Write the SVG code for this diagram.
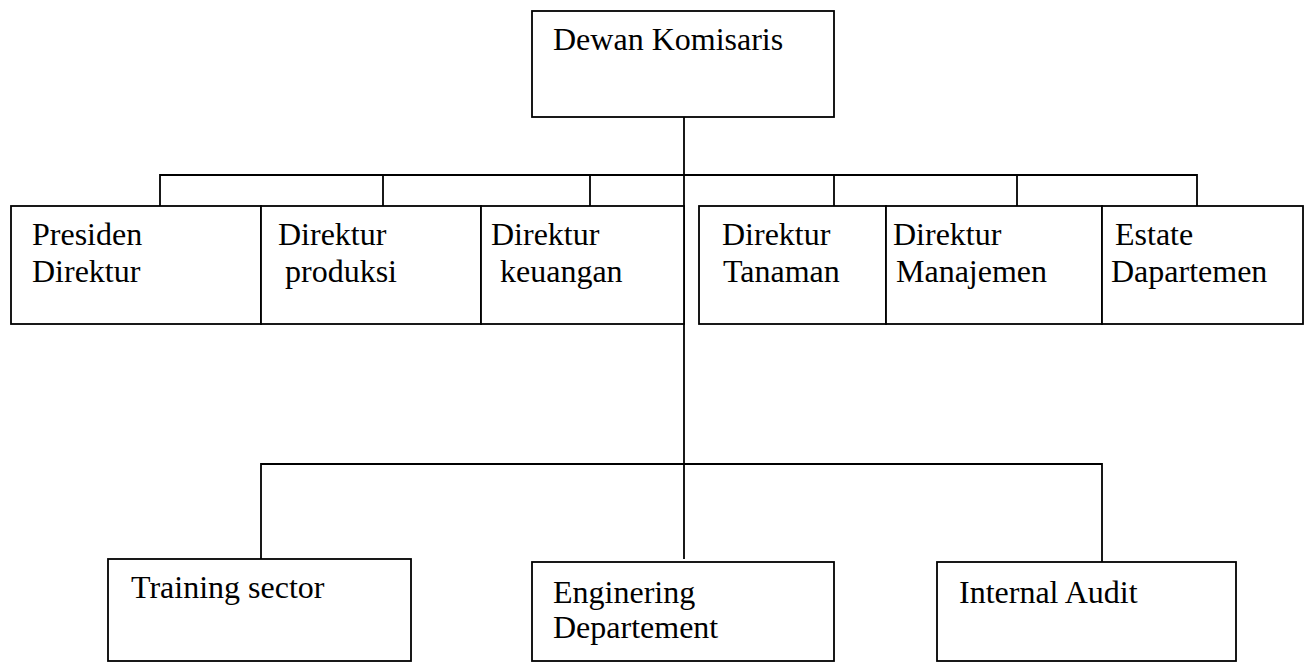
<svg xmlns="http://www.w3.org/2000/svg" width="1305" height="662" viewBox="0 0 1305 662">
<style>
.box{fill:#fff;stroke:#000;stroke-width:1.8}
.ln{fill:none;stroke:#000;stroke-width:1.8}
text{font-family:"Liberation Serif","Times New Roman",serif;font-size:32px;fill:#000}
</style>
<rect width="1305" height="662" fill="#fff"/>
<g id="connectors">
<line class="ln" x1="684" y1="117" x2="684" y2="559"/>
<polyline class="ln" points="160,206 160,175 1197,175 1197,206"/>
<line class="ln" x1="383" y1="175" x2="383" y2="206"/>
<line class="ln" x1="590" y1="175" x2="590" y2="206"/>
<line class="ln" x1="834" y1="175" x2="834" y2="206"/>
<line class="ln" x1="1017" y1="175" x2="1017" y2="206"/>
<polyline class="ln" points="261,559 261,464 1102,464 1102,562"/>
</g>
<g id="dewan-komisaris">
<rect class="box" x="532" y="11" width="302" height="106"/>
<text x="553" y="50">Dewan Komisaris</text>
</g>
<g id="presiden-direktur">
<rect class="box" x="11" y="206" width="250" height="118"/>
<text x="32" y="245">Presiden</text>
<text x="32" y="282">Direktur</text>
</g>
<g id="direktur-produksi">
<rect class="box" x="261" y="206" width="220" height="118"/>
<text x="278" y="245">Direktur</text>
<text x="285" y="282">produksi</text>
</g>
<g id="direktur-keuangan">
<rect class="box" x="481" y="206" width="203" height="118"/>
<text x="491" y="245">Direktur</text>
<text x="500" y="282">keuangan</text>
</g>
<g id="direktur-tanaman">
<rect class="box" x="699" y="206" width="187" height="118"/>
<text x="722" y="245">Direktur</text>
<text x="723" y="282">Tanaman</text>
</g>
<g id="direktur-manajemen">
<rect class="box" x="886" y="206" width="216" height="118"/>
<text x="893" y="245">Direktur</text>
<text x="896" y="282">Manajemen</text>
</g>
<g id="estate-dapartemen">
<rect class="box" x="1102" y="206" width="201" height="118"/>
<text x="1115" y="245">Estate</text>
<text x="1111" y="282">Dapartemen</text>
</g>
<g id="training-sector">
<rect class="box" x="108" y="559" width="303" height="102"/>
<text x="131" y="598">Training sector</text>
</g>
<g id="enginering-departement">
<rect class="box" x="532" y="562" width="302" height="99"/>
<text x="553" y="603">Enginering</text>
<text x="553" y="638">Departement</text>
</g>
<g id="internal-audit">
<rect class="box" x="937" y="562" width="299" height="99"/>
<text x="959" y="603">Internal Audit</text>
</g>
</svg>
